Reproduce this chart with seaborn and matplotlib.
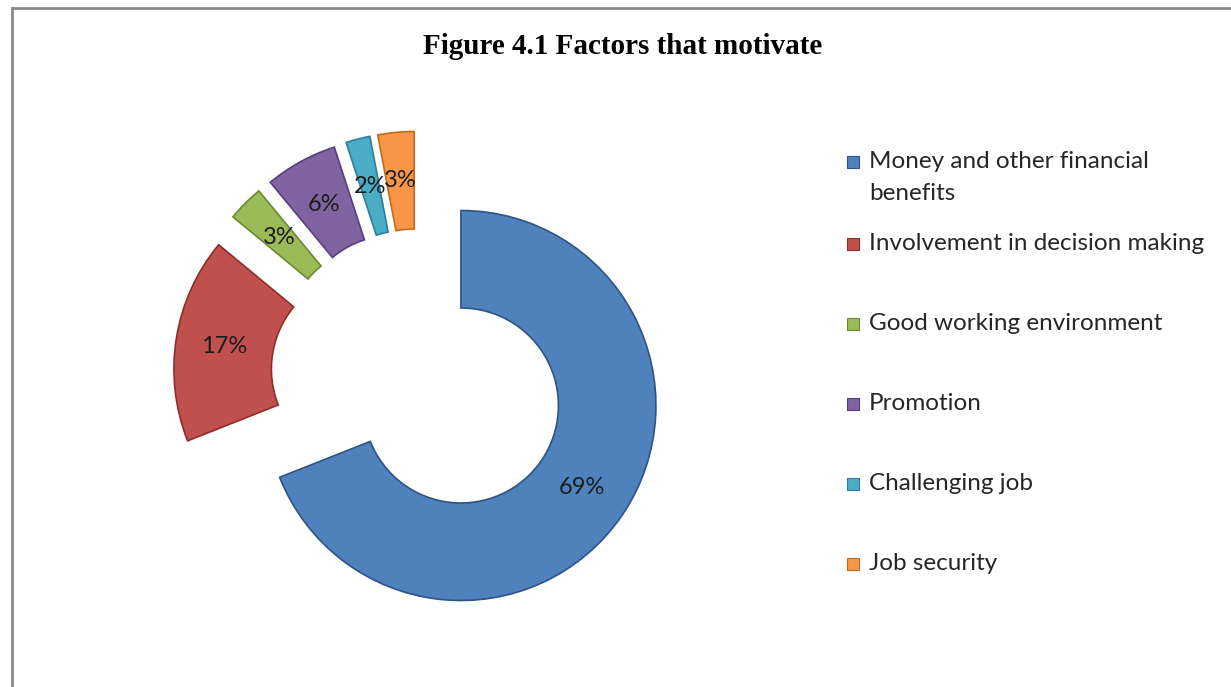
import matplotlib
matplotlib.use("Agg")
import matplotlib.pyplot as plt
import matplotlib.patches as mpatches
import seaborn as sns

# ---- data ----
categories = ["Money and other financial\nbenefits",
              "Involvement in decision making",
              "Good working environment",
              "Promotion",
              "Challenging job",
              "Job security"]
values = [69, 17, 3, 6, 2, 3]
pct_labels = ["69%", "17%", "3%", "6%", "2%", "3%"]
title = "Figure 4.1 Factors that motivate"

colors = ["#4F81BD", "#C0504D", "#9BBB59", "#8064A2", "#4BACC6", "#F79646"]
edges = ["#2f5383", "#8c2f2c", "#6b8a35", "#583f7a", "#2c7f96", "#c46a1d"]

sns.set_theme(style="white")
plt.rcParams['font.family'] = ['Lato', 'DejaVu Sans']

W, H = 1231, 687
fig = plt.figure(figsize=(W / 100, H / 100), dpi=100)
fig.patch.set_facecolor("white")

ax = fig.add_axes([0, 0, 1, 1])
R = 195
cx, cy = 419, H - 377
wedges, texts, autotexts = ax.pie(
    values, colors=colors, startangle=90, counterclock=False,
    radius=R, center=(cx, cy), explode=[0.26 * R] * len(values),
    labels=None, autopct=lambda p: "", pctdistance=0.75,
    wedgeprops=dict(width=0.5 * R, linewidth=1.2),
)
for w, ec in zip(wedges, edges):
    w.set_edgecolor(ec)
for t, lab in zip(autotexts, pct_labels):
    t.set_text(lab)
    t.set_fontsize(17)
    t.set_color("#1c1c1c")
ax.set_xlim(0, W)
ax.set_ylim(0, H)
ax.set_aspect("equal")
ax.axis("off")

# title
fig.text(623 / W, 1 - 47 / H, title, ha="center", va="center",
         fontsize=21, fontweight="bold", family=["Liberation Serif", "DejaVu Serif"],
         color="black")

# legend (manual layout)
ys = [162, 244, 324, 404, 484, 564]
for lab, col, ec, y in zip(categories, colors, edges, ys):
    sq = mpatches.Rectangle((847 / W, 1 - (y + 6) / H), 12 / W, 12 / H,
                            transform=fig.transFigure, facecolor=col,
                            edgecolor=ec, linewidth=0.8)
    fig.patches.append(sq)
    for i, ln in enumerate(lab.split("\n")):
        fig.text(869 / W, 1 - (y + i * 31) / H, ln, ha="left", va="center",
                 fontsize=17.5, color="#262626")

# outer border
border = mpatches.Rectangle((12 / W, -0.05), 1.2, 1 - 8 / H + 0.05,
                            transform=fig.transFigure, fill=False,
                            edgecolor="#8a8a8a", linewidth=2)
fig.patches.append(border)

fig.savefig("out.png", dpi=100)
